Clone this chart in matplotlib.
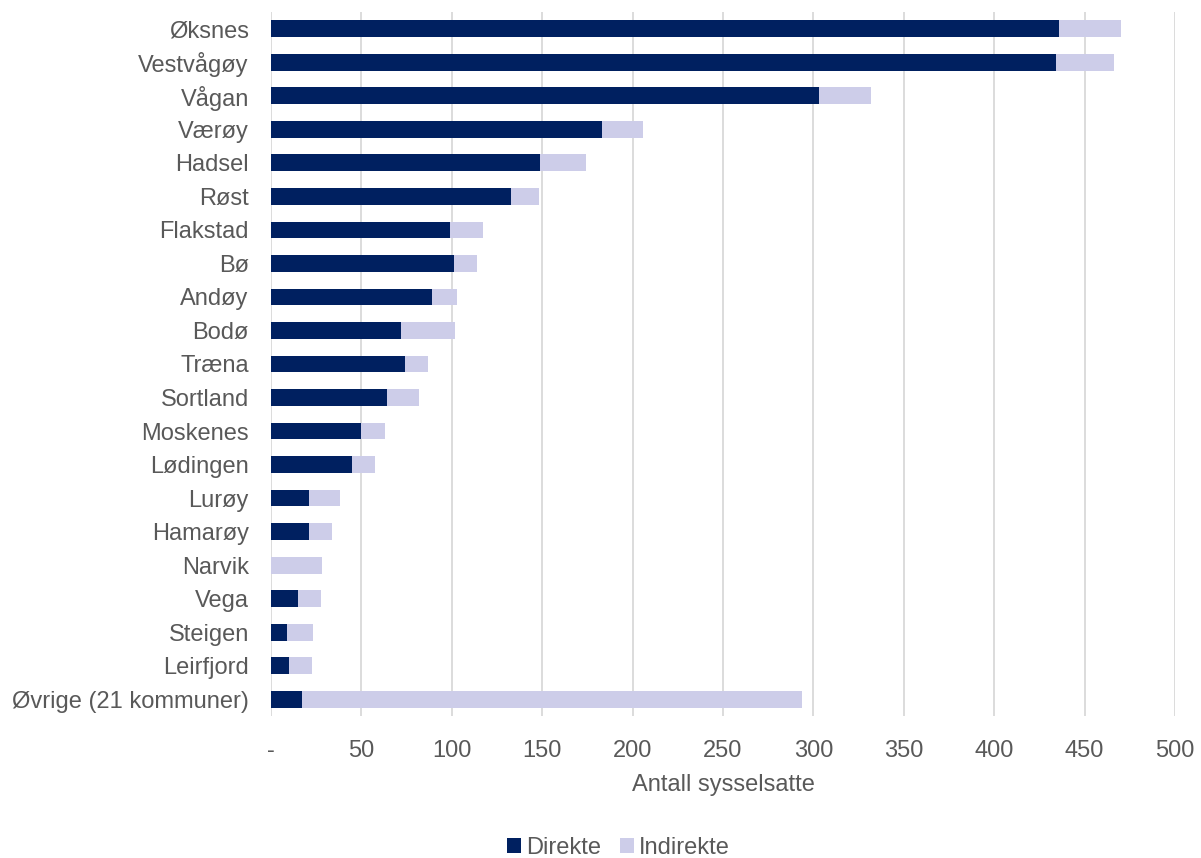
import matplotlib
matplotlib.use("Agg")
import matplotlib.pyplot as plt
import numpy as np

plt.rcParams["font.family"] = ["Liberation Sans", "DejaVu Sans"]

kommuner = ["Øksnes", "Vestvågøy", "Vågan", "Værøy", "Hadsel", "Røst", "Flakstad", "Bø",
            "Andøy", "Bodø", "Træna", "Sortland", "Moskenes", "Lødingen", "Lurøy", "Hamarøy",
            "Narvik", "Vega", "Steigen", "Leirfjord", "Øvrige (21 kommuner)"]
direkte = [436, 434, 303, 183, 149, 133, 99, 101, 89, 72, 74, 64, 50, 45, 21, 21,
           0, 15, 9, 10, 17]
total = [470, 466, 332, 206, 174, 148, 117, 114, 103, 101.5, 87, 82, 63, 57.5, 38, 34,
         28, 27.5, 23.5, 22.5, 293.5]
indirekte = [t - d for t, d in zip(total, direkte)]
xticks = [0, 50, 100, 150, 200, 250, 300, 350, 400, 450, 500]
xticklabels = ["-"] + [str(v) for v in xticks[1:]]

DARK = "#002060"
LIGHT = "#CDCDE9"
GREY = "#595959"
FS = 17

fig = plt.figure(figsize=(12.01, 8.58), dpi=100)
ax = fig.add_axes([271 / 1201, 1 - 716 / 858, (1175 - 271) / 1201, (716 - 12) / 858])

y = np.arange(len(kommuner))
ax.barh(y, direkte, height=0.5, color=DARK, label="Direkte", zorder=3)
ax.barh(y, indirekte, left=direkte, height=0.5, color=LIGHT, label="Indirekte", zorder=3)

ax.set_ylim(len(kommuner) - 0.5, -0.5)
ax.set_xlim(0, 500)
ax.set_yticks(y, kommuner)
ax.set_xticks(xticks, xticklabels)
ax.tick_params(length=0, labelsize=FS, colors=GREY)
ax.tick_params(axis="x", pad=17)
ax.tick_params(axis="y", pad=16)
ax.grid(axis="x", color="#D9D9D9", linewidth=1.3, zorder=0)
for s in ax.spines.values():
    s.set_visible(False)
ax.set_xlabel("Antall sysselsatte", fontsize=FS, color=GREY, labelpad=9)

fig.legend(loc="center", bbox_to_anchor=(0.515, 1 - 848 / 858), ncol=2, frameon=False,
           fontsize=FS, labelcolor=GREY, handlelength=0.6, handleheight=0.6,
           handletextpad=0.2, columnspacing=0.8)

fig.savefig("out.png", dpi=100)
